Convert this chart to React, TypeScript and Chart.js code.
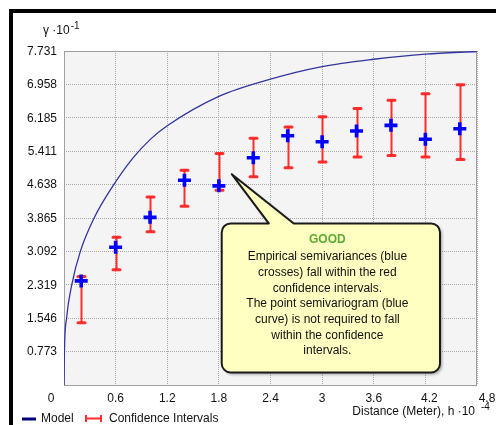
import React, { useEffect, useRef } from 'react';
import { Chart, registerables } from 'chart.js';

Chart.register(...registerables);

// ---- data ----
const X_TICKS = [0, 0.6, 1.2, 1.8, 2.4, 3, 3.6, 4.2, 4.8];
const X_TICK_LABELS = ['0', '0.6', '1.2', '1.8', '2.4', '3', '3.6', '4.2', '4.8'];
const Y_TICKS = [0, 0.7731, 1.5462, 2.3193, 3.0924, 3.8655, 4.6386, 5.4117, 6.1848, 6.9579, 7.731];
const Y_TICK_LABELS = ['', '0.773', '1.546', '2.319', '3.092', '3.865', '4.638', '5.411', '6.185', '6.958', '7.731'];

const MODEL_X = [0, 0.005, 0.03, 0.09, 0.19, 0.35, 0.55, 0.8, 1.0, 1.2, 1.8, 2.4, 3.0, 3.6, 4.2, 4.8];
const MODEL_Y = [0, 0.773, 1.546, 2.319, 3.092, 3.865, 4.55, 5.25, 5.68, 6.0, 6.68, 7.08, 7.37, 7.54, 7.66, 7.72];

const LAG_X = [0.2, 0.6, 1.0, 1.4, 1.8, 2.2, 2.6, 3.0, 3.4, 3.8, 4.2, 4.6];
const SEMIVAR_Y = [2.41, 3.19, 3.88, 4.74, 4.61, 5.26, 5.77, 5.63, 5.88, 6.01, 5.69, 5.93];
const CI_HIGH = [2.51, 3.42, 4.35, 4.97, 5.36, 5.71, 5.97, 6.21, 6.4, 6.59, 6.74, 6.95];
const CI_LOW = [1.44, 2.67, 3.55, 4.14, 4.51, 4.82, 5.03, 5.16, 5.28, 5.31, 5.28, 5.22];

const CALLOUT_TITLE = 'GOOD';
const CALLOUT_LINES = [
  'Empirical semivariances (blue',
  'crosses) fall within the red',
  'confidence intervals.',
  'The point semivariogram (blue',
  'curve) is not required to fall',
  'within the confidence',
  'intervals.',
];

const Y_TITLE = 'γ ·10';
const Y_TITLE_EXP = '-1';
const X_TITLE = 'Distance (Meter), h ·10';
const X_TITLE_EXP = '-4';
const LEGEND_MODEL = 'Model';
const LEGEND_CI = 'Confidence Intervals';

// ---- style / layout ----
const FONT = '"Liberation Sans", Arial, sans-serif';
const TEXT = '#111';
const RED = 'rgba(255,28,28,0.92)';
// callout anchored in data coordinates
const CALLOUT = { tipX: 1.95, tipY: 4.88, left: 1.833, right: 4.37, top: 3.74, bottom: 0.29, baseL: 2.38, baseR: 2.67 };

const decor = {
  id: 'decor',
  beforeDraw(chart: any) {
    const { ctx, chartArea: a } = chart;
    ctx.save();
    ctx.fillStyle = '#fff';
    ctx.fillRect(0, 0, chart.width, chart.height);
    ctx.fillStyle = '#F4F4F4';
    ctx.fillRect(a.left, a.top, a.right - a.left, a.bottom - a.top);
    ctx.restore();
  },
  beforeDatasetsDraw(chart: any) {
    const { ctx, chartArea: a } = chart;
    const xs = chart.scales.x;
    const ys = chart.scales.y;
    ctx.save();
    ctx.strokeStyle = '#A0A0A0';
    ctx.lineWidth = 1;
    ctx.strokeRect(Math.round(a.left) + 0.5, Math.round(a.top) + 0.5, Math.round(a.right - a.left) - 1, Math.round(a.bottom - a.top));
    // error bars
    ctx.strokeStyle = RED;
    for (let i = 0; i < LAG_X.length; i++) {
      const px = Math.round(xs.getPixelForValue(LAG_X[i])) + 0.5;
      const yh = ys.getPixelForValue(CI_HIGH[i]);
      const yl = ys.getPixelForValue(CI_LOW[i]);
      ctx.lineWidth = 2;
      ctx.beginPath();
      ctx.moveTo(px, yh);
      ctx.lineTo(px, yl);
      ctx.stroke();
      ctx.lineWidth = 3;
      ctx.lineCap = 'round';
      ctx.beginPath();
      ctx.moveTo(px - 3.5, yh);
      ctx.lineTo(px + 3.5, yh);
      ctx.moveTo(px - 3.5, yl);
      ctx.lineTo(px + 3.5, yl);
      ctx.stroke();
      ctx.lineCap = 'butt';
    }
    ctx.restore();
  },
  afterDraw(chart: any) {
    const { ctx, chartArea: a } = chart;
    const xs = chart.scales.x;
    const ys = chart.scales.y;
    ctx.save();
    ctx.font = `12px ${FONT}`;
    ctx.fillStyle = TEXT;
    // y tick labels
    ctx.textAlign = 'right';
    ctx.textBaseline = 'middle';
    Y_TICKS.forEach((v, i) => {
      if (Y_TICK_LABELS[i]) ctx.fillText(Y_TICK_LABELS[i], a.left - 7, ys.getPixelForValue(v) + 0.5);
    });
    // x tick labels
    ctx.textAlign = 'center';
    X_TICKS.forEach((v, i) => {
      let px = xs.getPixelForValue(v);
      if (i === 0) px -= 13;
      if (i === X_TICKS.length - 1) px += 10;
      if (i === X_TICKS.length - 2) px += 4;
      ctx.fillText(X_TICK_LABELS[i], px, a.bottom + 13.5);
    });
    // y title
    ctx.textAlign = 'left';
    ctx.fillText(Y_TITLE, 43, 31);
    const yw = ctx.measureText(Y_TITLE).width;
    ctx.font = `10px ${FONT}`;
    ctx.fillText(Y_TITLE_EXP, 43 + yw + 1, 26);
    // x title
    ctx.font = `12px ${FONT}`;
    ctx.textAlign = 'right';
    ctx.fillText(X_TITLE, 475, 411.5);
    ctx.font = `10px ${FONT}`;
    ctx.textAlign = 'left';
    ctx.fillText(X_TITLE_EXP, 481, 407.5);

    // legend
    ctx.font = `12px ${FONT}`;
    ctx.strokeStyle = '#00007A';
    ctx.lineWidth = 3;
    ctx.beginPath();
    ctx.moveTo(22, 419);
    ctx.lineTo(36, 419);
    ctx.stroke();
    ctx.fillStyle = TEXT;
    ctx.fillText(LEGEND_MODEL, 41, 418.5);
    ctx.strokeStyle = RED;
    ctx.lineWidth = 2;
    ctx.beginPath();
    ctx.moveTo(85, 418.5);
    ctx.lineTo(102, 418.5);
    ctx.moveTo(86, 415);
    ctx.lineTo(86, 422);
    ctx.moveTo(101, 415);
    ctx.lineTo(101, 422);
    ctx.stroke();
    ctx.fillText(LEGEND_CI, 109, 418.5);

    // callout
    const L = xs.getPixelForValue(CALLOUT.left);
    const R = xs.getPixelForValue(CALLOUT.right);
    const T = ys.getPixelForValue(CALLOUT.top);
    const B = ys.getPixelForValue(CALLOUT.bottom);
    const tx = xs.getPixelForValue(CALLOUT.tipX);
    const ty = ys.getPixelForValue(CALLOUT.tipY);
    const bl = xs.getPixelForValue(CALLOUT.baseL);
    const br = xs.getPixelForValue(CALLOUT.baseR);
    const r = 9;
    ctx.beginPath();
    ctx.moveTo(L + r, T);
    ctx.lineTo(bl, T);
    ctx.lineTo(tx, ty);
    ctx.lineTo(br, T);
    ctx.lineTo(R - r, T);
    ctx.arcTo(R, T, R, T + r, r);
    ctx.lineTo(R, B - r);
    ctx.arcTo(R, B, R - r, B, r);
    ctx.lineTo(L + r, B);
    ctx.arcTo(L, B, L, B - r, r);
    ctx.lineTo(L, T + r);
    ctx.arcTo(L, T, L + r, T, r);
    ctx.closePath();
    ctx.save();
    ctx.shadowColor = 'rgba(0,0,0,0.35)';
    ctx.shadowOffsetX = 2;
    ctx.shadowOffsetY = 2;
    ctx.shadowBlur = 3;
    ctx.fillStyle = '#FFFFC2';
    ctx.fill();
    ctx.restore();
    ctx.strokeStyle = '#1a1a1a';
    ctx.lineWidth = 2;
    ctx.lineJoin = 'round';
    ctx.stroke();
    const cx = (L + R) / 2 - 3.5;
    ctx.textAlign = 'center';
    ctx.textBaseline = 'middle';
    ctx.font = `bold 12px ${FONT}`;
    ctx.fillStyle = '#5AAA32';
    ctx.fillText(CALLOUT_TITLE, cx, T + 16.5);
    ctx.font = `12px ${FONT}`;
    ctx.fillStyle = TEXT;
    CALLOUT_LINES.forEach((s, i) => {
      ctx.fillText(s, cx, T + 33.5 + i * 15.7);
    });

    // outer frame
    ctx.fillStyle = '#000';
    ctx.fillRect(9, 9, chart.width - 9, 4);
    ctx.fillRect(9, 9, 4, chart.height - 9);
    ctx.restore();
  },
};

export default function App() {
  const ref = useRef<HTMLCanvasElement | null>(null);
  useEffect(() => {
    if (!ref.current) return;
    const chart = new Chart(ref.current, {
      type: 'line',
      data: {
        datasets: [
          {
            label: 'Model',
            data: MODEL_X.map((x, i) => ({ x, y: MODEL_Y[i] })),
            borderColor: '#3434A0',
            borderWidth: 1.3,
            pointRadius: 0,
            fill: false,
            cubicInterpolationMode: 'monotone',
          },
          {
            label: 'Empirical',
            data: LAG_X.map((x, i) => ({ x, y: SEMIVAR_Y[i] })),
            showLine: false,
            pointStyle: 'cross',
            pointRadius: 6.5,
            pointBorderWidth: 3.6,
            borderColor: '#0000FF',
            backgroundColor: '#0000FF',
          },
        ],
      },
      options: {
        animation: false,
        responsive: false,
        devicePixelRatio: 1,
        layout: { padding: { left: 64, top: 51, right: 19, bottom: 40 } },
        plugins: { legend: { display: false }, tooltip: { enabled: false } },
        events: [],
        scales: {
          x: {
            type: 'linear',
            min: 0,
            max: 4.8,
            afterBuildTicks: (s: any) => {
              s.ticks = X_TICKS.map((v) => ({ value: v }));
            },
            ticks: { display: false },
            grid: { color: '#A8A8A8', lineWidth: 1, drawTicks: false },
            border: { display: false, dash: [1, 1] },
          },
          y: {
            type: 'linear',
            min: 0,
            max: 7.731,
            afterBuildTicks: (s: any) => {
              s.ticks = Y_TICKS.map((v) => ({ value: v }));
            },
            ticks: { display: false },
            grid: { color: '#A8A8A8', lineWidth: 1, drawTicks: false },
            border: { display: false, dash: [1, 1] },
          },
        },
      },
      plugins: [decor],
    } as any);
    return () => chart.destroy();
  }, []);
  return (
    <div style={{ position: 'fixed', left: 0, top: 0, width: 496, height: 425, background: '#fff' }}>
      <canvas ref={ref} width={496} height={425} style={{ display: 'block' }} />
    </div>
  );
}
